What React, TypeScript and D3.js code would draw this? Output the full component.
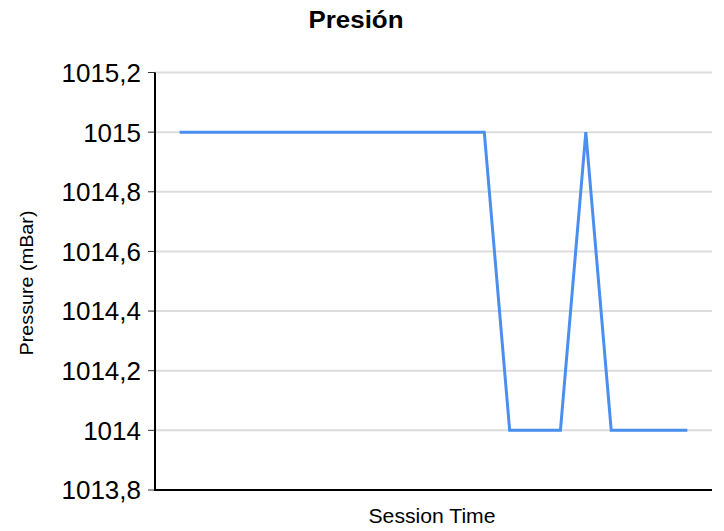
import React from "react";
import * as d3 from "d3";

const times = d3.range(21).map((i) => `t${i}`);
const pressure = [1015, 1015, 1015, 1015, 1015, 1015, 1015, 1015, 1015, 1015, 1015, 1015, 1015, 1014, 1014, 1014, 1015, 1014, 1014, 1014, 1014];
const yTicks = [1013.8, 1014, 1014.2, 1014.4, 1014.6, 1014.8, 1015, 1015.2];

const W = 724, H = 531;
const left = 155, right = 712, top = 72.5, bottom = 490;

export default function App() {
  const x = d3.scalePoint<string>().domain(times).range([left, right]).padding(0.97);
  const y = d3.scaleLinear().domain([1013.8, 1015.2]).range([bottom, top]);
  const line = d3.line<number>().x((_, i) => x(times[i])!).y((d) => y(d));
  const fmt = (v: number) => {
    const r = Math.round(v * 10) / 10;
    return Number.isInteger(r) ? String(r) : r.toFixed(1).replace(".", ",");
  };
  return (
    <svg width={W} height={H} style={{ position: "absolute", left: 0, top: 0, fontFamily: "'Liberation Sans', Arial, sans-serif" }}>
      <rect width={W} height={H} fill="#fff" />
      <text x={356} y={28} textAnchor="middle" fontSize={23} fontWeight="bold" fill="#000" textLength={95} lengthAdjust="spacingAndGlyphs">Presión</text>
      {yTicks.map((t) => (
        <g key={t}>
          <line x1={left} x2={right} y1={y(t)} y2={y(t)} stroke="#dcdcdc" strokeWidth={2} />
          <line x1={148} x2={left} y1={y(t)} y2={y(t)} stroke="#333" strokeWidth={1} />
          <text x={141} y={y(t)} dy="0.36em" textAnchor="end" fontSize={26} fill="#000">{fmt(t)}</text>
        </g>
      ))}
      <path d={line(pressure)!} fill="none" stroke="#4a8ff0" strokeWidth={3} strokeLinejoin="miter" />
      <line x1={left} x2={left} y1={top} y2={bottom + 1} stroke="#000" strokeWidth={2} />
      <line x1={left - 1} x2={right} y1={bottom} y2={bottom} stroke="#000" strokeWidth={2} />
      <text x={432} y={523} textAnchor="middle" fontSize={20} fill="#000" textLength={127} lengthAdjust="spacingAndGlyphs">Session Time</text>
      <text transform={`translate(33,283) rotate(-90)`} textAnchor="middle" fontSize={19} fill="#000" textLength={145} lengthAdjust="spacingAndGlyphs">Pressure (mBar)</text>
    </svg>
  );
}
